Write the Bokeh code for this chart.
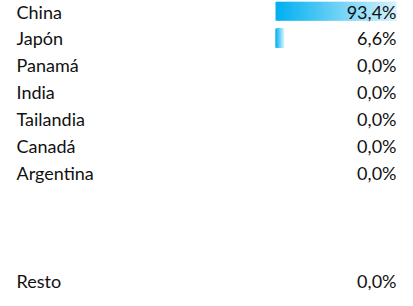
from bokeh.plotting import figure
from bokeh.models import Range1d, ColumnDataSource
from bokeh.core.properties import value
from bokeh.embed import file_html
from bokeh.resources import INLINE

countries = ["China", "Japón", "Panamá", "India", "Tailandia", "Canadá", "Argentina"]
shares = [93.4, 6.6, 0.0, 0.0, 0.0, 0.0, 0.0]
rest_label = "Resto"
rest_share = 0.0

W, H = 397, 290
TOP = 11.0      # px centre of first row
ROW = 26.9      # px per row
rows = list(range(len(countries))) + [10]
labels = countries + [rest_label]
vals = shares + [rest_share]
val_txt = [("%.1f%%" % v).replace(".", ",") for v in vals]

p = figure(width=W, height=H, output_backend="svg", toolbar_location=None,
           x_range=Range1d(0, W), y_range=Range1d((H - TOP) / ROW, -TOP / ROW),
           min_border=0, background_fill_color="white", border_fill_color="white",
           outline_line_color=None)
p.axis.visible = False
p.grid.visible = False

# data-bar scale: 0 at px 275, max value at px 396
bar_px0, bar_px1 = 275.0, 396.0
vmax = max(vals)
k = (bar_px1 - bar_px0) / vmax
p.extra_x_ranges = {"bar": Range1d(-bar_px0 / k, (W - bar_px0) / k)}

# gradient data bars drawn as thin overlapping strips
c0 = (0x00, 0xB0, 0xF0)
c1 = (0xD4, 0xF1, 0xFC)
N = 40
L, R, T, B, C = [], [], [], [], []
for r, v in zip(rows, vals):
    if v <= 0:
        continue
    for i in range(N):
        t = i / (N - 1)
        col = "#%02x%02x%02x" % tuple(int(round(a + (b - a) * t)) for a, b in zip(c0, c1))
        L.append(v * i / N)
        R.append(min(v, v * (i + 1) / N + 1.2 / k))
        T.append(r - 0.36)
        B.append(r + 0.34)
        C.append(col)
p.quad(left=L, right=R, top=T, bottom=B, fill_color=C, line_color=None,
       x_range_name="bar")

src = ColumnDataSource(dict(y=rows, lab=labels, vt=val_txt))
p.text(x=16, y="y", text="lab", source=src, text_font=value("Lato"),
       text_font_size="18px", text_baseline="middle", text_align="left",
       text_color="#111111")
p.text(x=396, y="y", text="vt", source=src, text_font=value("Lato"),
       text_font_size="18px", text_baseline="middle", text_align="right",
       text_color="#111111")

open("out.html", "w").write(file_html(p, INLINE))
